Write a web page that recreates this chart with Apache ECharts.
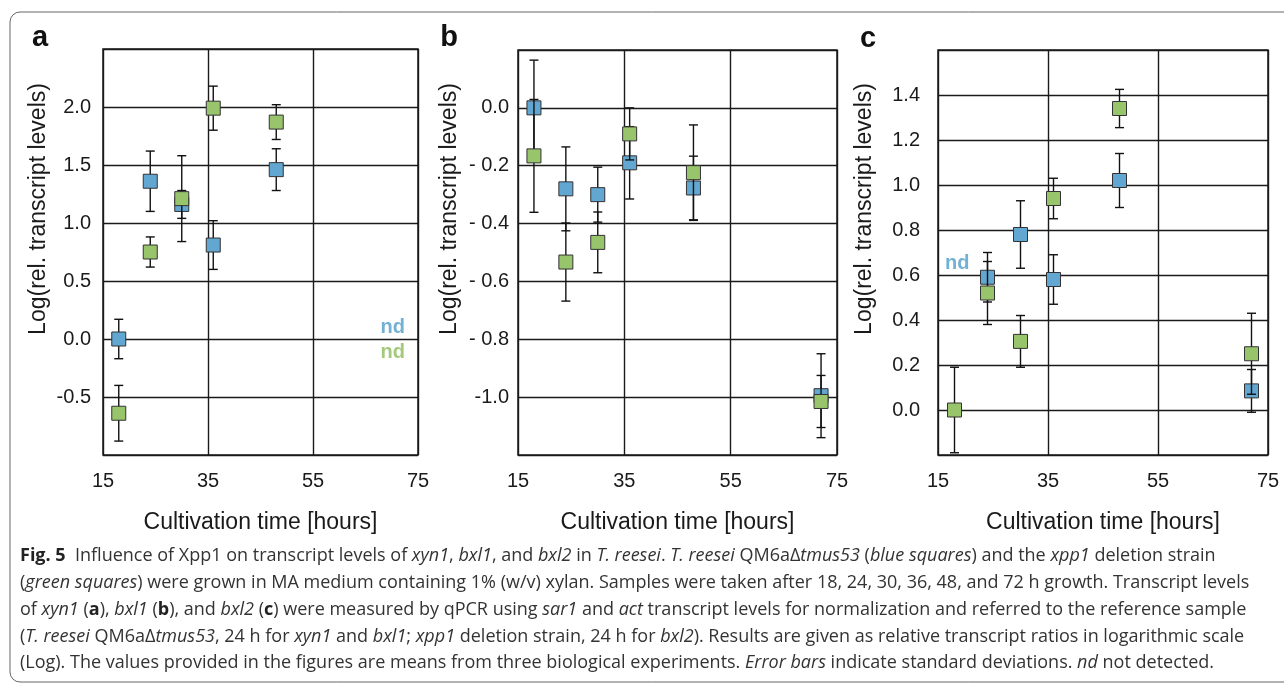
<!DOCTYPE html>
<html>
<head>
<meta charset="UTF-8">
<title>Fig. 5</title>
<script src="https://cdn.jsdelivr.net/npm/echarts@6/dist/echarts.min.js"></script>
<style>
html,body{margin:0;height:100%;background:#fff;}
#chart{width:1284px;height:684px;}
</style>
</head>
<body>
<div id="chart"></div>
<script>
// sampling times (h)
var hours = [18, 24, 30, 36, 48, 72];

// a: xyn1   (null = nd, not detected)
var xyn1Blue   = [0.00, 1.36, 1.16, 0.81, 1.46, null];
var xyn1BlueSd = [0.17, 0.26, 0.12, 0.21, 0.18, null];
var xyn1Green  = [-0.64, 0.75, 1.21, 1.99, 1.87, null];
var xyn1GreenSd= [0.24, 0.13, 0.37, 0.19, 0.15, null];

// b: bxl1
var bxl1Blue   = [0.00, -0.28, -0.30, -0.19, -0.277, -0.995];
var bxl1BlueSd = [0.165, 0.145, 0.095, 0.125, 0.11, 0.145];
var bxl1Green  = [-0.166, -0.533, -0.465, -0.09, -0.224, -1.015];
var bxl1GreenSd= [0.195, 0.135, 0.105, 0.09, 0.165, 0.09];

// c: bxl2
var bxl2Blue   = [null, 0.59, 0.78, 0.58, 1.02, 0.085];
var bxl2BlueSd = [null, 0.11, 0.15, 0.11, 0.12, 0.095];
var bxl2Green  = [0.00, 0.52, 0.305, 0.94, 1.34, 0.25];
var bxl2GreenSd= [0.19, 0.14, 0.115, 0.09, 0.085, 0.18];

// "nd" markers: [panel, hour, y, colour key]
var ndMarks = [[0, 70.2, 0.10, 'blue'], [0, 70.2, -0.12, 'green'], [2, 18.5, 0.65, 'blue']];

var xTicks = {min: 15, max: 75, interval: 20};
var yRanges = [
  {min: -1.0, max: 2.5, interval: 0.5},
  {min: -1.2, max: 0.2, interval: 0.2},
  {min: -0.2, max: 1.6, interval: 0.2}
];

var BLUE = '#62a7d1', GREEN = '#98c46c';
var ND_COL = {blue: '#4f9dc9', green: '#8dbb5c'};
var FONT = '"Liberation Sans", Arial, sans-serif';
var CAP_FONT = '"Open Sans", "Noto Sans", sans-serif';

function pts(vals, sds) {
  var out = [];
  for (var i = 0; i < hours.length; i++) {
    if (vals[i] !== null) out.push([hours[i], vals[i], sds[i]]);
  }
  return out;
}

function renderErr(params, api) {
  var x = api.value(0), y = api.value(1), e = api.value(2);
  var top = api.coord([x, y + e]), bot = api.coord([x, y - e]);
  var w = 4.5;
  var st = {stroke: '#111', lineWidth: 1.4};
  return {type: 'group', children: [
    {type: 'line', shape: {x1: top[0], y1: top[1], x2: bot[0], y2: bot[1]}, style: st},
    {type: 'line', shape: {x1: top[0] - w, y1: top[1], x2: top[0] + w, y2: top[1]}, style: st},
    {type: 'line', shape: {x1: bot[0] - w, y1: bot[1], x2: bot[0] + w, y2: bot[1]}, style: st}
  ]};
}

var grids = [
  {left: 103, top: 49, width: 315, height: 406},
  {left: 518, top: 50, width: 319, height: 405},
  {left: 938, top: 50, width: 330, height: 405}
];
var labelMargins = [12, 9, 18];

function fmtY(panel) {
  return function (v) {
    var r = Math.round(v * 10) / 10;
    var s = Math.abs(r).toFixed(1);
    if (r < 0) {
      if (panel === 1 && r > -0.95) return '- ' + s;
      return '-' + s;
    }
    return s;
  };
}

var panels = [
  [xyn1Blue, xyn1BlueSd, xyn1Green, xyn1GreenSd],
  [bxl1Blue, bxl1BlueSd, bxl1Green, bxl1GreenSd],
  [bxl2Blue, bxl2BlueSd, bxl2Green, bxl2GreenSd]
];

var option = {
  animation: false,
  backgroundColor: '#fff',
  grid: grids.map(function (g) {
    return Object.assign({show: true, borderColor: '#1a1a1a', borderWidth: 1.5, backgroundColor: 'transparent'}, g);
  }),
  xAxis: [0, 1, 2].map(function (i) {
    return {
      type: 'value', gridIndex: i,
      min: xTicks.min, max: xTicks.max, interval: xTicks.interval,
      name: 'Cultivation time [hours]', nameLocation: 'middle', nameGap: 56,
      nameTextStyle: {fontFamily: FONT, fontSize: 23, color: '#1a1a1a'},
      axisLine: {show: false}, axisTick: {show: false},
      axisLabel: {fontFamily: FONT, fontSize: 20, color: '#1a1a1a', margin: 16},
      splitLine: {show: true, lineStyle: {color: '#1a1a1a', width: 1.4}}
    };
  }),
  yAxis: [0, 1, 2].map(function (i) {
    return {
      type: 'value', gridIndex: i,
      min: yRanges[i].min, max: yRanges[i].max, interval: yRanges[i].interval,
      axisLine: {show: false}, axisTick: {show: false},
      axisLabel: {fontFamily: FONT, fontSize: 20, color: '#1a1a1a', margin: labelMargins[i],
                  showMinLabel: false, showMaxLabel: false, formatter: fmtY(i)},
      splitLine: {show: true, lineStyle: {color: '#1a1a1a', width: 1.4}}
    };
  }),
  series: [],
  graphic: []
};

panels.forEach(function (p, i) {
  var sets = [[p[0], p[1], BLUE], [p[2], p[3], GREEN]];
  sets.forEach(function (s, k) {
    option.series.push({
      type: 'custom', xAxisIndex: i, yAxisIndex: i, z: 3 + k * 2,
      renderItem: renderErr, encode: {x: 0, y: 1},
      data: pts(s[0], s[1])
    });
    option.series.push({
      type: 'scatter', xAxisIndex: i, yAxisIndex: i, z: 4 + k * 2,
      symbol: 'rect', symbolSize: 14,
      itemStyle: {color: s[2], borderColor: '#333', borderWidth: 1, opacity: 1},
      data: pts(s[0], s[1]).map(function (d) { return [d[0], d[1]]; })
    });
  });
});

ndMarks.forEach(function (m) {
  option.series.push({
    type: 'scatter', xAxisIndex: m[0], yAxisIndex: m[0], z: 10,
    symbolSize: 0, silent: true,
    label: {show: true, position: 'inside', formatter: 'nd',
            fontFamily: FONT, fontWeight: 'bold', fontSize: 20, color: ND_COL[m[3]]},
    data: [[m[1], m[2]]]
  });
});

// outer frame
option.graphic.push({
  type: 'rect', z: 0, silent: true,
  shape: {x: 10, y: 12, width: 1300, height: 670, r: 10},
  style: {fill: 'none', stroke: '#666', lineWidth: 1}
});

// panel letters and y titles
var letters = [['a', 40, 52], ['b', 449, 52], ['c', 868, 53]];
letters.forEach(function (l) {
  option.graphic.push({
    type: 'text', x: l[1], y: l[2],
    style: {text: l[0], fontFamily: FONT, fontWeight: 'bold', fontSize: 29, fill: '#111',
            textAlign: 'center', textVerticalAlign: 'bottom'}
  });
});
[39, 450, 865].forEach(function (x) {
  option.graphic.push({
    type: 'text', x: x, y: 209, rotation: Math.PI / 2,
    style: {text: 'Log(rel. transcript levels)', fontFamily: FONT, fontSize: 23, fill: '#1a1a1a',
            textAlign: 'center', textVerticalAlign: 'middle'}
  });
});

// caption
var captionLines = [
  '{b|Fig. 5}  Influence of Xpp1 on transcript levels of {i|xyn1}, {i|bxl1}, and {i|bxl2} in {i|T. reesei}. {i|T. reesei} QM6a\u0394{i|tmus53} ({i|blue squares}) and the {i|xpp1} deletion strain',
  '({i|green squares}) were grown in MA medium containing 1% (w/v) xylan. Samples were taken after 18, 24, 30, 36, 48, and 72 h growth. Transcript levels',
  'of {i|xyn1} ({b|a}), {i|bxl1} ({b|b}), and {i|bxl2} ({b|c}) were measured by qPCR using {i|sar1} and {i|act} transcript levels for normalization and referred to the reference sample',
  '({i|T. reesei} QM6a\u0394{i|tmus53}, 24 h for {i|xyn1} and {i|bxl1}; {i|xpp1} deletion strain, 24 h for {i|bxl2}). Results are given as relative transcript ratios in logarithmic scale',
  '(Log). The values provided in the figures are means from three biological experiments. {i|Error bars} indicate standard deviations. {i|nd} not detected.'
];
var capSize = 18;
captionLines.forEach(function (t, i) {
  option.graphic.push({
    type: 'text', x: 20, y: 556 + i * 26.8,
    style: {
      text: t, fontFamily: CAP_FONT, fontSize: capSize, fill: '#333',
      textAlign: 'left', textVerticalAlign: 'middle',
      rich: {
        i: {fontFamily: CAP_FONT, fontSize: capSize, fontStyle: 'italic', fill: '#333'},
        b: {fontFamily: CAP_FONT, fontSize: capSize, fontWeight: 'bold', fill: '#222'}
      }
    }
  });
});

var myChart = echarts.init(document.getElementById('chart'));
myChart.setOption(option);
</script>
</body>
</html>
